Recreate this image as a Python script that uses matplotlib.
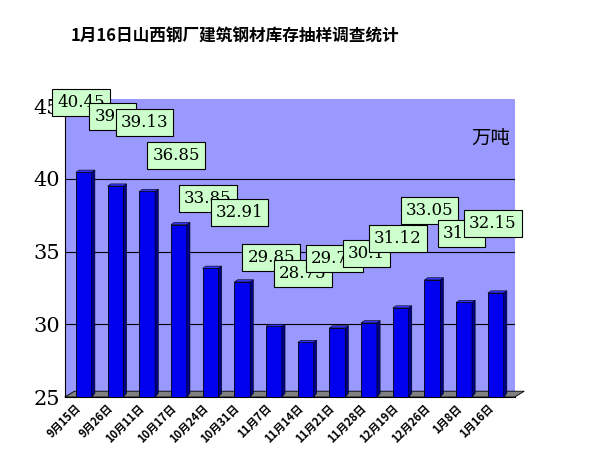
import matplotlib
matplotlib.use("Agg")
import matplotlib.pyplot as plt
from matplotlib.patches import Polygon

plt.rcParams['font.family'] = ['Noto Sans CJK SC', 'DejaVu Sans']

categories = ["9月15日","9月26日","10月11日","10月17日","10月24日","10月31日","11月7日",
              "11月14日","11月21日","11月28日","12月19日","12月26日","1月8日","1月16日"]
values = [40.45, 39.5, 39.13, 36.85, 33.85, 32.91, 29.85, 28.75, 29.75, 30.1, 31.12, 33.05, 31.5, 32.15]
labels = ["40.45","39.5","39.13","36.85","33.85","32.91","29.85","28.75","29.75","30.1","31.12","33.05","31.5","32.15"]

fig = plt.figure(figsize=(5.89, 4.66), dpi=100)
fig.patch.set_facecolor('white')
ax = fig.add_axes([0.11, 0.148, 0.764, 0.64])
ax.set_facecolor('#9999ff')
ax.set_xlim(-0.6, len(values) - 0.4)
ax.set_ylim(25, 45.5)
x = list(range(len(values)))
for yv in [30, 35, 40]:
    ax.axhline(yv, color='black', lw=0.8, zorder=1)
ax.add_patch(Polygon([(-0.6, 25), (len(values)-0.4, 25), (len(values)-0.1, 25.4), (-0.3, 25.4)],
                     closed=True, facecolor='#808080', edgecolor='black', lw=0.6, zorder=1, clip_on=False))
w = 0.5
ax.bar(x, values, width=w, bottom=0, color='#0000ee', edgecolor='black', lw=0.6, zorder=3)
for xi, v in zip(x, values):
    ax.add_patch(Polygon([(xi+w/2, 25), (xi+w/2+0.1, 25.25), (xi+w/2+0.1, v+0.15), (xi+w/2, v)],
                         closed=True, facecolor='#000088', edgecolor='black', lw=0.4, zorder=3))
    ax.add_patch(Polygon([(xi-w/2, v), (xi-w/2+0.1, v+0.15), (xi+w/2+0.1, v+0.15), (xi+w/2, v)],
                         closed=True, facecolor='#3333ff', edgecolor='black', lw=0.4, zorder=3))
for xi, v, t in zip(x, values, labels):
    ax.annotate(t, (xi, v), xytext=(-2, 50), textcoords='offset points', ha='center', va='center',
                fontsize=12, family='DejaVu Serif', zorder=6,
                bbox=dict(boxstyle='square,pad=0.3', facecolor='#ccffcc', edgecolor='black', lw=0.8))
ax.set_yticks([25, 30, 35, 40, 45])
ax.tick_params(axis='y', labelsize=15, length=0)
for lb in ax.get_yticklabels():
    lb.set_family('DejaVu Serif')
ax.set_xticks(x)
ax.set_xticklabels(categories, rotation=45, ha='right', fontsize=8, fontweight='bold')
ax.tick_params(axis='x', length=0)
for s in ['top', 'right']:
    ax.spines[s].set_visible(False)
ax.text(0.99, 0.85, "万吨", transform=ax.transAxes, ha='right', fontsize=14, zorder=7)
fig.text(0.12, 0.91, "1月16日山西钢厂建筑钢材库存抽样调查统计", fontsize=12, fontweight='bold')
fig.savefig("out.png", dpi=100)
